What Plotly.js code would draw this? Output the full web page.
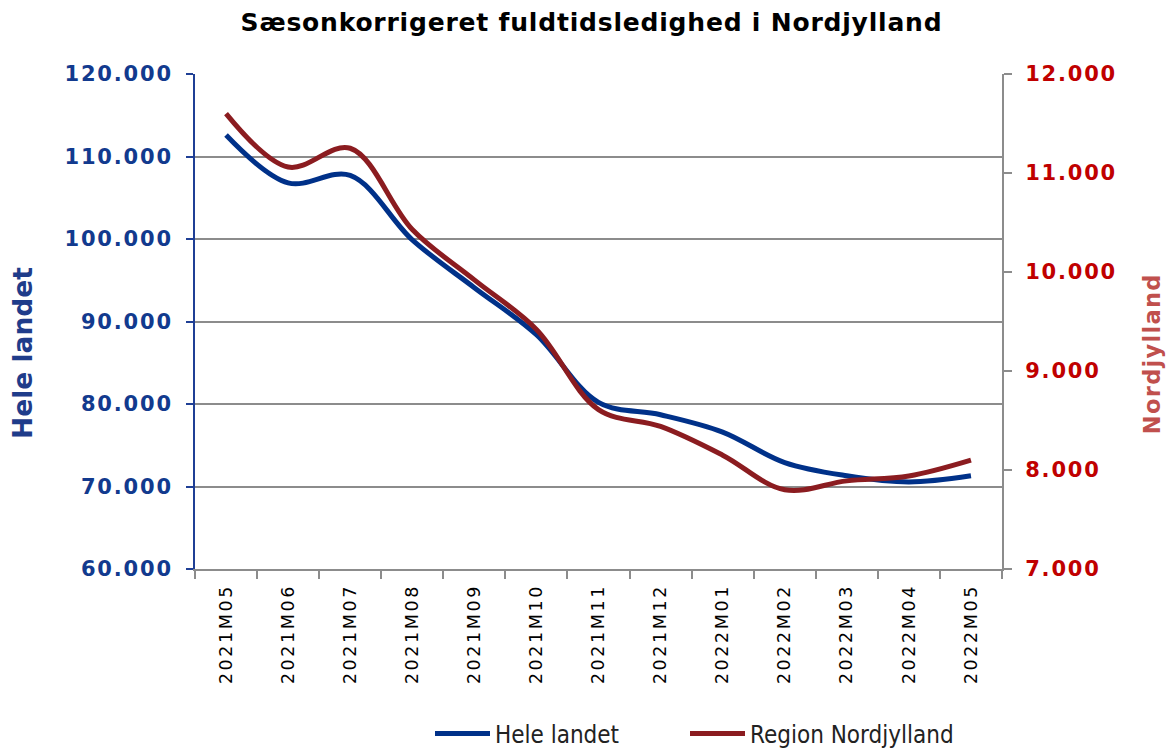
<!DOCTYPE html>
<html>
<head>
<meta charset="utf-8">
<script src="https://cdn.plot.ly/plotly-3.0.1.min.js"></script>
<style>
  html, body { margin: 0; padding: 0; background: #fff; }
  #chart { width: 1169px; height: 749px; }
  #chart .xtick text { letter-spacing: 2.6px; }
  #chart .ytick text, #chart .y2tick text { letter-spacing: 1.8px; }
  #chart .gtitle { letter-spacing: 0.8px; }
  #chart .annotation[data-index="1"] text { letter-spacing: 1.3px; }
</style>
</head>
<body>
<div id="chart"></div>
<script>
const months = ["2021M05","2021M06","2021M07","2021M08","2021M09","2021M10","2021M11","2021M12","2022M01","2022M02","2022M03","2022M04","2022M05"];
const heleLandet = [112600, 106800, 107700, 99900, 94100, 88400, 80200, 78700, 76600, 72900, 71300, 70550, 71300];
const regionNordjylland = [11600, 11060, 11250, 10430, 9920, 9420, 8610, 8440, 8150, 7800, 7890, 7940, 8100];

const leftTicks = [60000, 70000, 80000, 90000, 100000, 110000, 120000];
const rightTicks = [7000, 8000, 9000, 10000, 11000, 12000];

const blue = "#003189";
const red = "#8b1c20";
const grid = "#8c8c8c";
const fontV = "Verdana, 'DejaVu Sans', sans-serif";
const legendFont = { family: "'Liberation Sans Narrow', 'DejaVu Sans Condensed', sans-serif", size: 24, color: "#222" };

const traces = [
  {
    x: months, y: heleLandet, name: "Hele landet", type: "scatter", mode: "lines",
    line: { color: blue, width: 5, shape: "spline", smoothing: 1 },
    yaxis: "y", legend: "legend", hoverinfo: "skip"
  },
  {
    x: months, y: regionNordjylland, name: "Region Nordjylland", type: "scatter", mode: "lines",
    line: { color: red, width: 5, shape: "spline", smoothing: 1 },
    yaxis: "y2", legend: "legend2", hoverinfo: "skip"
  }
];

const layout = {
  width: 1169, height: 749,
  paper_bgcolor: "#fff", plot_bgcolor: "#fff",
  separators: ",.",
  margin: { l: 195, r: 167, t: 74, b: 180, pad: 0, autoexpand: false },
  title: {
    text: "Sæsonkorrigeret fuldtidsledighed i Nordjylland",
    font: { family: fontV, size: 25, color: "#000", weight: "bold" },
    xref: "container", x: 0.506, xanchor: "center",
    yref: "container", y: 1 - 22 / 749, yanchor: "middle"
  },
  showlegend: true,
  legend: {
    orientation: "h",
    x: (430 - 195) / 807, xanchor: "left",
    y: (569 - 734) / 495, yanchor: "middle",
    font: legendFont,
    itemwidth: 55,
    bgcolor: "rgba(0,0,0,0)"
  },
  legend2: {
    orientation: "h",
    x: (685 - 195) / 807, xanchor: "left",
    y: (569 - 734) / 495, yanchor: "middle",
    font: legendFont,
    itemwidth: 55,
    bgcolor: "rgba(0,0,0,0)"
  },
  annotations: [
    {
      text: "Hele landet", textangle: -90, showarrow: false,
      xref: "paper", x: 0, xshift: 22 - 195, xanchor: "center",
      yref: "paper", y: (569 - 353) / 495, yanchor: "middle",
      font: { family: fontV, size: 26.5, color: "#1f3c8a", weight: "bold" }
    },
    {
      text: "Nordjylland", textangle: -90, showarrow: false,
      xref: "paper", x: 1, xshift: 1152 - 1002, xanchor: "center",
      yref: "paper", y: (569 - 354) / 495, yanchor: "middle",
      font: { family: fontV, size: 22.5, color: "#c0504d", weight: "bold" }
    }
  ],
  xaxis: {
    type: "category",
    range: [-0.5, months.length - 0.5],
    showgrid: false, zeroline: false,
    showline: true, linecolor: grid, linewidth: 2,
    ticks: "outside", tickson: "boundaries", ticklen: 8, tickcolor: grid, tickwidth: 2,
    tickangle: -90,
    ticklabelstandoff: 6,
    tickfont: { family: fontV, size: 17.5, color: "#000" },
    fixedrange: true
  },
  yaxis: {
    range: [60000, 120000],
    tickvals: leftTicks,
    tickformat: ",d",
    showgrid: true, gridcolor: grid, gridwidth: 2,
    zeroline: false,
    showline: true, linecolor: "#1f3f95", linewidth: 2,
    ticks: "outside", ticklen: 7, tickcolor: "#1f3f95", tickwidth: 2,
    ticklabelstandoff: 9,
    tickfont: { family: fontV, size: 21, color: "#123a8e", weight: "bold" },
    fixedrange: true
  },
  yaxis2: {
    overlaying: "y", side: "right",
    range: [7000, 12000],
    tickvals: rightTicks,
    tickformat: ",d",
    showgrid: false, zeroline: false,
    showline: true, linecolor: grid, linewidth: 2,
    ticks: "outside", ticklen: 8, tickcolor: grid, tickwidth: 2,
    ticklabelstandoff: 9,
    tickfont: { family: fontV, size: 21, color: "#c00000", weight: "bold" },
    fixedrange: true
  }
};

Plotly.newPlot("chart", traces, layout, { displayModeBar: false, staticPlot: true });
</script>
</body>
</html>
